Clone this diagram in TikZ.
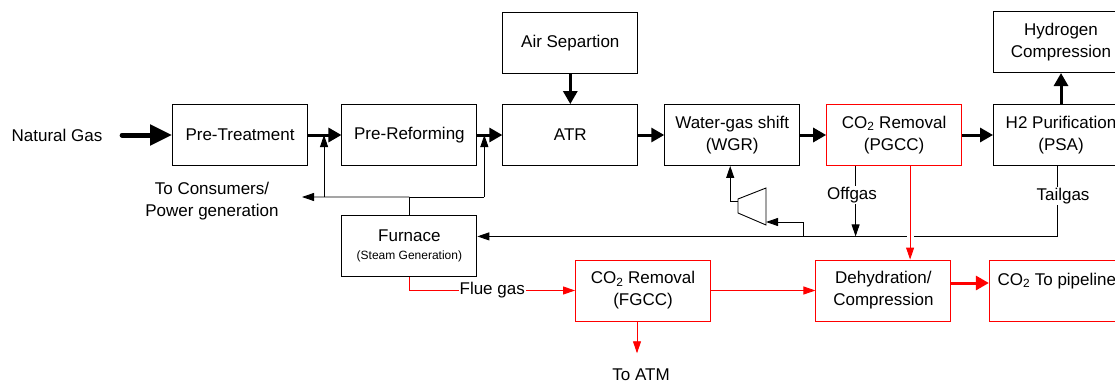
\documentclass[tikz,border=0pt]{standalone}
\usepackage{fontspec}
\setmainfont{Liberation Sans}
\usetikzlibrary{arrows.meta,positioning,calc}

\begin{document}
\begin{tikzpicture}[x=1pt, y=-1pt, line width=0.9pt,
  font=\fontsize{17}{22}\selectfont,
  box/.style={draw, align=center, minimum width=135pt, minimum height=61pt, inner sep=2pt},
  redbox/.style={box, draw=red},
  feed/.style={-{Triangle[length=22pt, width=20pt]}, line width=5pt, line cap=round},
  arr/.style={-{Triangle[length=13pt, width=14pt]}, line width=3pt},
  flow/.style={-{Triangle[length=12pt, width=8pt]}},
  redflow/.style={flow, red},
  lbl/.style={fill=white, text=black, inner sep=1pt}]
\clip (0,0) rectangle (1115,385);

% main train
\node[box] (pretreat) at (240,135) {Pre-Treatment};
\node[box, right=33.5pt of pretreat] (prereform) {Pre-Reforming};
\node[box, right=25pt of prereform] (atr) {ATR};
\node[box, right=26pt of atr] (wgs) {Water-gas shift\\(WGR)};
\node[redbox, right=26pt of wgs] (pgcc) {CO\textsubscript{2} Removal\\(PGCC)};
\node[box, right=31pt of pgcc] (h2pur) {H2 Purification\\(PSA)};
\node[box, above=30pt of atr] (airsep) {Air Separtion};
\node[box, above=31pt of h2pur] (h2comp) {Hydrogen\\Compression};
\node[box, below=49pt of prereform] (furnace) {Furnace\\[-4.5pt]{\fontsize{12}{14}\selectfont (Steam Generation)}};

% capture train
\node[redbox] (fgcc) at (643,290.5) {CO\textsubscript{2} Removal\\(FGCC)};
\node[redbox, right=104.5pt of fgcc] (dehyd) {Dehydration/\\Compression};
\node[redbox, right=37.5pt of dehyd, text depth=23pt] (pipeline) {CO\textsubscript{2} To pipeline};

\node (ng) at (57,135) {Natural Gas};
\node[align=center] (cons) at (212,201) {To Consumers/\\Power generation};
\node (atm) at (641,375) {To ATM};

\draw[feed, shorten <=16pt] (ng) -- (pretreat);
\draw[arr] (pretreat) -- (prereform);
\draw[arr] (prereform) -- (atr);
\draw[arr] (atr) -- (wgs);
\draw[arr] (wgs) -- (pgcc);
\draw[arr] (pgcc) -- (h2pur);
\draw[arr] (h2pur) -- (h2comp);
\draw[arr] (airsep) -- (atr);

% natural gas split to furnace
\coordinate (split) at ($(furnace.north)+(0,-18)$);
\coordinate (tocons) at (302,197);
\coordinate (mix1) at ($(pretreat.east)!0.48!(prereform.west)$);
\coordinate (mix2) at ($(prereform.east)!0.28!(atr.west)$);
\draw[flow] (split) -- (tocons);
\draw (furnace.north) -- (split) -- (mix2 |- split);
\draw[flow] (mix1 |- split) -- (mix1);
\draw[flow] (mix2 |- split) -- (mix2);

% tailgas and offgas back to furnace
\coordinate (ret) at ([yshift=9.5pt]furnace.east);
\coordinate (offtop) at ([xshift=-38.5pt]pgcc.south);
\draw[flow] ([xshift=-3.5pt]h2pur.south) |- (ret);
\draw[flow] (offtop) -- (offtop |- ret);
\node[lbl] (tail) at (1063,196) {Tailgas};
\node[lbl] (off) at (852,195) {Offgas};

% recycle compressor
\coordinate (cin) at (766,222);
\coordinate (cout) at (738,201);
\coordinate (recyc) at (803,236);
\draw (738,199) -- (766,188) -- (766,225) -- (738,213) -- cycle;
\draw[flow] (recyc) |- (cin);
\draw[flow] (cout) -| ([xshift=-2pt]wgs.south);

% CO2 lines
\coordinate (co2out) at ([xshift=16pt]pgcc.south);
\fill[white] ($(co2out |- ret)+(-3.5,-3)$) rectangle ++(7,6);
\draw[redflow] (co2out) -- (co2out |- dehyd.north);
\draw[redflow] (furnace.south) |- node[lbl, pos=0.75] (flue) {Flue gas} (fgcc.west);
\draw[redflow] (fgcc) -- (dehyd);
\draw[redflow] ([xshift=-6pt]fgcc.south) -- ([xshift=-4pt, yshift=12pt]atm.north);
\draw[arr, red] ([yshift=7.5pt]dehyd.east) -- ([yshift=7.5pt]pipeline.west);
\end{tikzpicture}
\end{document}
